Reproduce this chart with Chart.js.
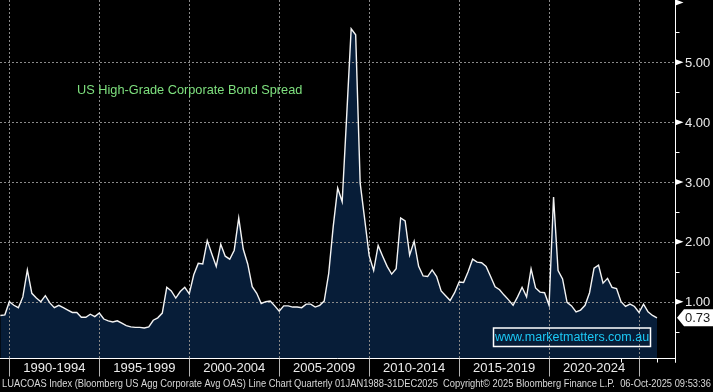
<!DOCTYPE html>
<html>
<head>
<meta charset="utf-8">
<script src="https://cdn.jsdelivr.net/npm/chart.js@4.4.1/dist/chart.umd.min.js"></script>
<style>
  html, body { margin: 0; padding: 0; background: #000; }
  #wrap { width: 713px; height: 392px; }
</style>
</head>
<body>
<div id="wrap"><canvas id="c" width="713" height="392"></canvas></div>
<script>
// ---- Data (quarter-end values of LUACOAS, % OAS) ----
const firstQuarterEnd = 1989.5;   // end of Q2 1989
const quarterStep = 0.25;
const spread1989to1996 = [0.77, 0.78, 1.00, 0.94, 0.90, 1.08, 1.53, 1.14, 1.06, 1.00, 1.10, 0.98, 0.90, 0.94, 0.90, 0.86,
  0.82, 0.82, 0.74, 0.74, 0.79, 0.75, 0.81, 0.71, 0.68, 0.66, 0.68, 0.64, 0.60, 0.58, 0.57];
const spread1997to2004 = [0.57, 0.56, 0.58, 0.69, 0.73, 0.81, 1.24, 1.18, 1.06, 1.17, 1.24, 1.13, 1.45, 1.64, 1.63,
  2.02, 1.80, 1.59, 1.96, 1.76, 1.71, 1.86, 2.40, 1.88, 1.63, 1.25, 1.14, 0.97, 1.00, 1.01];
const spread2004to2011 = [0.93, 0.84, 0.93, 0.93, 0.91, 0.91, 0.90, 0.96, 0.96, 0.91, 0.94, 1.01, 1.47, 2.25, 2.90,
  2.67, 4.10, 5.56, 5.46, 2.98, 2.38, 1.77, 1.52, 1.94, 1.76, 1.59, 1.46, 1.55];
const spread2011to2018 = [2.40, 2.35, 1.78, 2.01, 1.59, 1.43, 1.42, 1.53, 1.42, 1.18, 1.10, 1.02, 1.15, 1.33, 1.32,
  1.50, 1.71, 1.66, 1.65, 1.59, 1.42, 1.25, 1.20, 1.11, 1.03, 0.94, 1.08, 1.24, 1.08];
const spread2019to2025 = [1.55, 1.23, 1.16, 1.15, 0.94, 2.75, 1.52, 1.38, 0.99, 0.93, 0.83, 0.86, 0.94, 1.15, 1.56,
  1.61, 1.31, 1.39, 1.24, 1.22, 1.00, 0.92, 0.96, 0.92, 0.82, 0.96, 0.83, 0.77, 0.73];

const periodLabels = ['1990-1994', '1995-1999', '2000-2004', '2005-2009', '2010-2014', '2015-2019', '2020-2024'];
const periodStarts = [1990, 1995, 2000, 2005, 2010, 2015, 2020, 2025];
const shortTickYears = [2024, 2026, 2027];
const yTickValues = [1, 2, 3, 4, 5];
const yMinorValues = [0.5, 1.5, 2.5, 3.5, 4.5, 5.5];
const lastValueLabel = '0.73';
const titleText = 'US High-Grade Corporate Bond Spread';
const watermarkText = 'www.marketmatters.com.au';
const footerText = 'LUACOAS Index (Bloomberg US Agg Corporate Avg OAS) Line Chart Quarterly 01JAN1988-31DEC2025  Copyright\u00A9 2025 Bloomberg Finance L.P.  06-Oct-2025 09:53:36';

const spreadValues = [...spread1989to1996, ...spread1997to2004, ...spread2004to2011, ...spread2011to2018, ...spread2019to2025];
const points = spreadValues.map((v, i) => ({ x: firstQuarterEnd + i * quarterStep, y: v }));

const FONT = '"Liberation Sans", Arial, sans-serif';
const NAVY = '#071d38';

const bgPlugin = {
  id: 'bg',
  beforeDraw(chart) {
    const ctx = chart.ctx;
    ctx.save();
    ctx.fillStyle = '#000';
    ctx.fillRect(0, 0, chart.width, chart.height);
    ctx.restore();
  }
};

function drawGrid(chart) {
  const { ctx, chartArea: a, scales: { x, y } } = chart;
  ctx.save();
  ctx.strokeStyle = '#8a8a8a';
  ctx.lineWidth = 1;
  ctx.setLineDash([2, 2]);
  periodStarts.forEach(yr => {
    const px = Math.round(x.getPixelForValue(yr)) + 0.5;
    ctx.beginPath(); ctx.moveTo(px, a.top); ctx.lineTo(px, a.bottom); ctx.stroke();
  });
  yTickValues.forEach(v => {
    const py = Math.round(y.getPixelForValue(v)) + 0.5;
    ctx.beginPath(); ctx.moveTo(a.left, py); ctx.lineTo(a.right, py); ctx.stroke();
  });
  ctx.restore();
}

const gridPlugin = {
  id: 'gridAfterFill',
  afterDatasetDraw(chart, args) {
    if (args.index === 1) drawGrid(chart);
  }
};

const overlayPlugin = {
  id: 'overlay',
  afterDraw(chart) {
    const { ctx, chartArea: a, scales: { x, y } } = chart;
    ctx.save();
    const right = Math.round(a.right) + 0.5;
    const bottom = Math.round(a.bottom) + 0.5;

    // axes lines
    ctx.strokeStyle = '#ffffff';
    ctx.lineWidth = 1;
    ctx.beginPath(); ctx.moveTo(right, 0); ctx.lineTo(right, bottom + 4); ctx.stroke();
    ctx.beginPath(); ctx.moveTo(a.left, bottom); ctx.lineTo(right, bottom); ctx.stroke();

    // right axis major ticks (arrow style) + labels
    ctx.fillStyle = '#ffffff';
    [...yTickValues, 6].forEach(v => {
      const py = y.getPixelForValue(v);
      ctx.beginPath();
      ctx.moveTo(right, py - 3);
      ctx.lineTo(right + 8, py);
      ctx.lineTo(right, py + 3);
      ctx.closePath();
      ctx.fill();
    });
    yMinorValues.forEach(v => {
      const py = Math.round(y.getPixelForValue(v)) + 0.5;
      ctx.beginPath(); ctx.moveTo(right, py); ctx.lineTo(right + 4, py); ctx.stroke();
    });
    ctx.font = '13px ' + FONT;
    ctx.textAlign = 'left';
    ctx.textBaseline = 'middle';
    ctx.fillStyle = '#ececec';
    yTickValues.forEach(v => {
      ctx.fillText(v.toFixed(2), right + 9.5, y.getPixelForValue(v) + 1);
    });

    // last value tag
    const lastY = y.getPixelForValue(spreadValues[spreadValues.length - 1]);
    ctx.fillStyle = '#ffffff';
    ctx.beginPath();
    ctx.moveTo(677, lastY);
    ctx.lineTo(684, lastY - 8.5);
    ctx.lineTo(713, lastY - 8.5);
    ctx.lineTo(713, lastY + 8.5);
    ctx.lineTo(684, lastY + 8.5);
    ctx.closePath();
    ctx.fill();
    ctx.fillStyle = '#1a1a1a';
    ctx.fillText(lastValueLabel, 685, lastY + 1);

    // bottom axis ticks
    ctx.strokeStyle = '#b4b4b4';
    periodStarts.forEach(yr => {
      const px = Math.round(x.getPixelForValue(yr)) + 0.5;
      ctx.beginPath(); ctx.moveTo(px, bottom); ctx.lineTo(px, bottom + 18); ctx.stroke();
    });
    ctx.strokeStyle = '#ffffff';
    shortTickYears.forEach(yr => {
      const px = Math.round(x.getPixelForValue(yr)) + 0.5;
      ctx.beginPath(); ctx.moveTo(px, bottom); ctx.lineTo(px, bottom + 4); ctx.stroke();
    });
    ctx.fillStyle = '#ececec';
    ctx.textAlign = 'center';
    periodLabels.forEach((lab, i) => {
      const px = (x.getPixelForValue(periodStarts[i]) + x.getPixelForValue(periodStarts[i + 1])) / 2;
      ctx.fillText(lab, px, bottom + 10);
    });

    // title
    ctx.font = '12.75px ' + FONT;
    ctx.textAlign = 'left';
    ctx.fillStyle = '#7ee07e';
    ctx.fillText(titleText, 77, 90);

    // watermark
    ctx.strokeStyle = '#ffffff';
    ctx.lineWidth = 1.5;
    ctx.strokeRect(493.5, 328, 157, 18.5);
    ctx.font = '12.5px ' + FONT;
    ctx.fillStyle = '#1cc8f5';
    ctx.textAlign = 'center';
    ctx.fillText(watermarkText, 572, 338);

    // footer
    ctx.font = '10.5px ' + FONT;
    ctx.textAlign = 'left';
    ctx.fillStyle = '#d8d8d8';
    ctx.fillText(footerText, 2, 384.5, 709);

    ctx.restore();
  }
};

new Chart(document.getElementById('c'), {
  type: 'line',
  data: {
    datasets: [
      {
        data: points,
        borderColor: '#f4f4f4',
        borderWidth: 1.4,
        pointRadius: 0,
        fill: false,
        tension: 0,
        order: 0
      },
      {
        data: points,
        borderWidth: 0,
        borderColor: 'rgba(0,0,0,0)',
        backgroundColor: NAVY,
        pointRadius: 0,
        fill: 'start',
        tension: 0,
        order: 1
      }
    ]
  },
  options: {
    responsive: false,
    animation: false,
    devicePixelRatio: 1,
    layout: { padding: { left: 0, right: 38, top: 0, bottom: 34 } },
    plugins: { legend: { display: false }, tooltip: { enabled: false } },
    scales: {
      x: { type: 'linear', min: 1989.48, max: 2027.0, display: false },
      y: { type: 'linear', min: 0.059, max: 6.041, display: false }
    }
  },
  plugins: [bgPlugin, gridPlugin, overlayPlugin]
});
</script>
</body>
</html>
